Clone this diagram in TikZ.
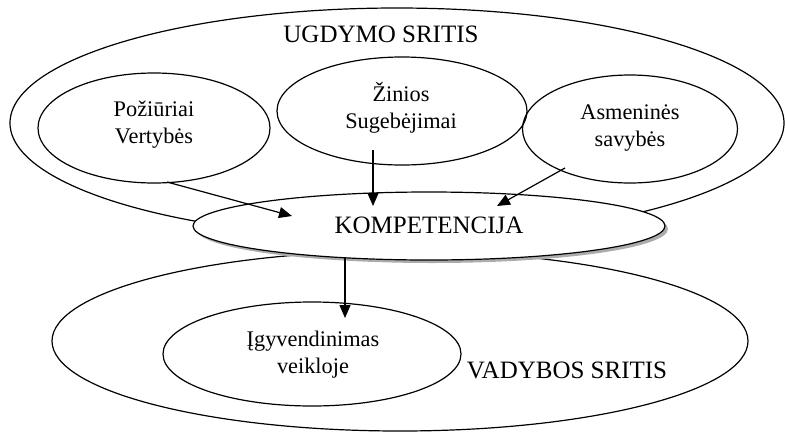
\documentclass[tikz,border=0pt]{standalone}
\usepackage{fontspec}
\setmainfont{Liberation Serif}
\usetikzlibrary{shapes.geometric,arrows.meta,shadows,calc}
\begin{document}
\begin{tikzpicture}[x=1pt,y=-1pt,
  area/.style={draw, ellipse, line width=1.2pt, inner sep=0pt},
  big/.style={font=\fontsize{25}{30}\selectfont, inner sep=0pt, anchor=base},
  sml/.style={font=\fontsize{22.3}{27}\selectfont, inner sep=0pt, anchor=base, align=center},
  arr/.style={line width=1.2pt, -{Triangle[length=13pt,width=11pt]}}
]
\useasboundingbox (0,0) rectangle (785,432);

% the two domains
\node[area, minimum width=774pt, minimum height=230pt] (ugd) at (397,123) {};
\node[area, minimum width=696pt, minimum height=180pt] (vad) at (400,341) {};

% components of competence
\node[area, minimum width=232pt, minimum height=110pt] (poz) at (154,128) {};
\node[area, minimum width=250pt, minimum height=108pt] (zin) at (402,111) {};
\node[area, minimum width=215pt, minimum height=108pt] (asm) at (630,129) {};
\node[area, minimum width=298pt, minimum height=104pt] (igy) at (312,354) {};

% competence itself
\node[area, fill=white, minimum width=472pt, minimum height=68pt,
  drop shadow={shadow xshift=3pt, shadow yshift=-3pt, fill=gray!65, opacity=1}]
  (komp) at (429,226) {};

% labels (two-line labels are placed by the baseline of their last line)
\node[big] (tugd) at (381,42) {UGDYMO SRITIS};
\node[big] (tkomp) at (429,233) {KOMPETENCIJA};
\node[big] (tvad) at (567,378) {VADYBOS SRITIS};
\node[sml] (tpoz) at (154,143) {Požiūriai\\Vertybės};
\node[sml] (tzin) at (401,128) {Žinios\\Sugebėjimai};
\node[sml] (tasm) at (630,146) {Asmeninės\\savybės};
\node[sml] (tigy) at (313,373) {Įgyvendinimas\\veikloje};

% arrows
\draw[arr] ($(poz.center)+(13,54)$) -- ($(komp.center)+(-137,-10)$);
\draw[arr] ($(zin.center)+(-29,39)$) -- ($(komp.center)+(-56,-20)$);
\draw[arr] ($(asm.center)+(-65,39)$) -- ($(komp.center)+(68,-20)$);
\draw[arr] ($(komp.center)+(-84,32)$) -- ($(igy.center)+(33,-36)$);
\end{tikzpicture}
\end{document}
